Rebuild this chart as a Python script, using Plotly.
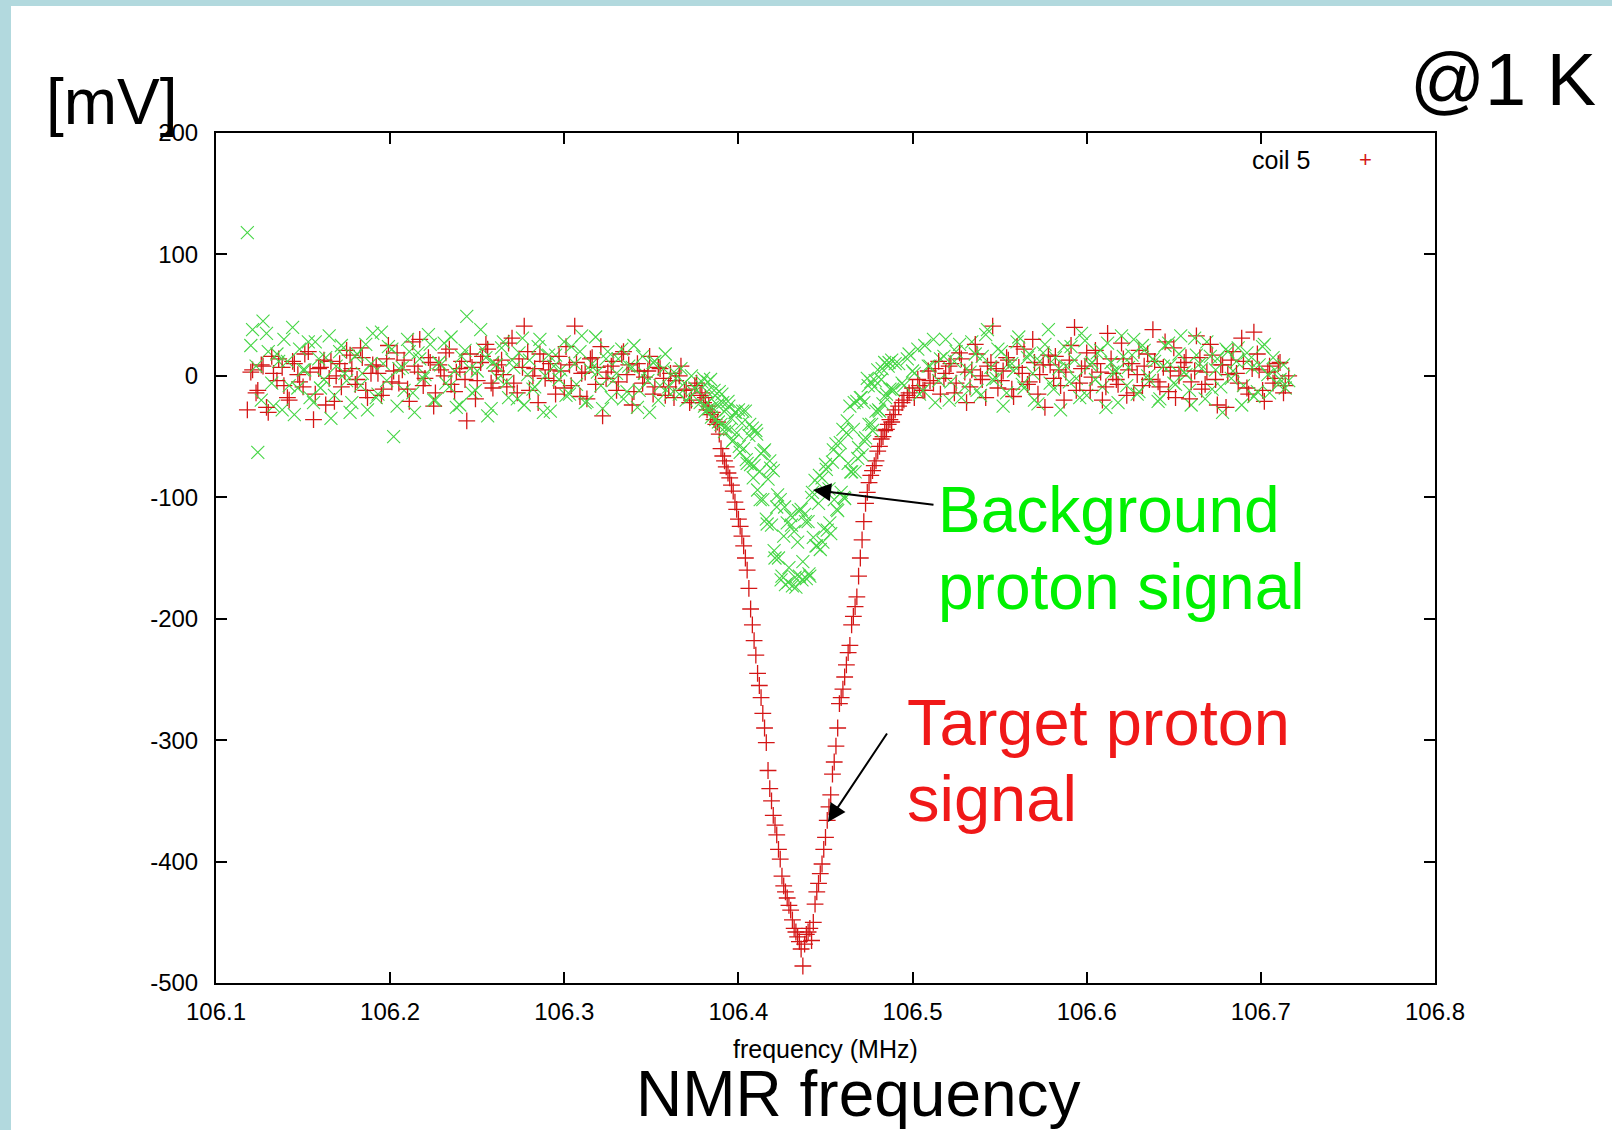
import plotly.graph_objects as go

# ---------------- data ----------------
# sweep 1 frequency grid (MHz)
freq_mhz = [
    106.118, 106.121, 106.124, 106.127, 106.130, 106.133, 106.136, 106.139, 106.142, 106.145,
    106.148, 106.151, 106.154, 106.157, 106.160, 106.163, 106.166, 106.169, 106.172, 106.175,
    106.178, 106.181, 106.184, 106.187, 106.190, 106.193, 106.196, 106.199, 106.202, 106.205,
    106.208, 106.211, 106.214, 106.217, 106.220, 106.223, 106.226, 106.229, 106.232, 106.235,
    106.238, 106.241, 106.244, 106.247, 106.250, 106.253, 106.256, 106.259, 106.262, 106.265,
    106.268, 106.271, 106.274, 106.277, 106.280, 106.283, 106.286, 106.289, 106.292, 106.295,
    106.298, 106.301, 106.304, 106.307, 106.310, 106.313, 106.316, 106.319, 106.322, 106.325,
    106.328, 106.331, 106.334, 106.337, 106.340, 106.343, 106.346, 106.349, 106.352, 106.355,
    106.358, 106.361, 106.364, 106.367, 106.370, 106.373, 106.376, 106.379,
    106.380, 106.381, 106.382, 106.383, 106.384, 106.385, 106.386, 106.387, 106.388, 106.389,
    106.390, 106.391, 106.392, 106.393, 106.394, 106.395, 106.396, 106.397, 106.398, 106.399,
    106.400, 106.401, 106.402, 106.403, 106.404, 106.405, 106.406, 106.407, 106.408, 106.409,
    106.410, 106.411, 106.412, 106.413, 106.414, 106.415, 106.416, 106.417, 106.418, 106.419,
    106.420, 106.421, 106.422, 106.423, 106.424, 106.425, 106.426, 106.427, 106.428, 106.429,
    106.430, 106.431, 106.432, 106.433, 106.434, 106.435, 106.436, 106.437, 106.438, 106.439,
    106.440, 106.441, 106.442, 106.443, 106.444, 106.445, 106.446, 106.447, 106.448, 106.449,
    106.450, 106.451, 106.452, 106.453, 106.454, 106.455, 106.456, 106.457, 106.458, 106.459,
    106.460, 106.461, 106.462, 106.463, 106.464, 106.465, 106.466, 106.467, 106.468, 106.469,
    106.470, 106.471, 106.472, 106.473, 106.474, 106.475, 106.476, 106.477, 106.478, 106.479,
    106.480, 106.481, 106.482, 106.483, 106.484, 106.485, 106.486, 106.487, 106.488, 106.489,
    106.490,
    106.492, 106.495, 106.498, 106.501, 106.504, 106.507, 106.510, 106.513, 106.516, 106.519,
    106.522, 106.525, 106.528, 106.531, 106.534, 106.537, 106.540, 106.543, 106.546, 106.549,
    106.552, 106.555, 106.558, 106.561, 106.564, 106.567, 106.570, 106.573, 106.576, 106.579,
    106.582, 106.585, 106.588, 106.591, 106.594, 106.597, 106.600, 106.603, 106.606, 106.609,
    106.612, 106.615, 106.618, 106.621, 106.624, 106.627, 106.630, 106.633, 106.636, 106.639,
    106.642, 106.645, 106.648, 106.651, 106.654, 106.657, 106.660, 106.663, 106.666, 106.669,
    106.672, 106.675, 106.678, 106.681, 106.684, 106.687, 106.690, 106.693, 106.696, 106.699,
    106.702, 106.705, 106.708, 106.711, 106.714,
]

# target (coil 5) signal, sweep 1, mV
coil5_mv = [
    -28, 5, -12, 8, -30, 2, 14, -8, -20, 10,
    -5, 18, 3, -15, 7, -24, 12, 0, -9, 21,
    6, -3, 15, -18, 9, 2, -11, 25, 4, -6,
    13, -21, 8, 30, -2, 11, -14, 5, 19, -7,
    3, 12, -37, 7, -4, 16, 22, -10, 9, 1,
    27, -6, 14, 41, -12, 6, 18, -2, 10, -15,
    4, 24, -8, 11, 2, -19, 15, 7, -33, 3,
    12, -5, 20, 9, -13, 4, -1, 16, -9, 6,
    -16, 2, -4, 8, -11, -20, -6, -14,
    -22, -18, -28, -25, -32, -30, -36, -40, -38, -48,
    -60, -66, -70, -75, -80, -84, -90, -95, -104, -110,
    -118, -124, -132, -140, -150, -160, -175, -192, -205, -218,
    -230, -245, -255, -265, -278, -290, -302, -325, -340, -350,
    -362, -370, -378, -390, -398, -412, -420, -425, -430, -436,
    -440, -448, -455, -458, -462, -466, -472, -486, -468, -460,
    -458, -455, -465, -450, -435, -425, -418, -410, -402, -390,
    -380, -366, -355, -345, -328, -318, -305, -290, -270, -265,
    -258, -248, -238, -228, -222, -205, -198, -190, -182, -165,
    -150, -135, -120, -105, -96, -88, -82, -78, -74, -70,
    -62, -58, -52, -50, -45, -44, -40, -36, -38, -32,
    -28,
    -25, -20, -14, -18, -8, -12, -4, 6, -15, 2,
    10, -6, 14, -22, 5, 18, -3, 8, 41, -10,
    4, 13, -17, 7, 22, -5, 11, 1, -26, 9,
    16, -8, 3, 25, -12, 6, 19, -1, 10, -20,
    35, 2, -7, 14, 5, -14, 21, 8, -3, 12,
    -9, 28, 4, -18, 7, 15, -5, 33, -11, 3,
    17, -24, 9, 1, 20, -6, 12, -15, 36, 5,
    -21, 8, -2, 11, -8,
]

# background signal, sweep 1, mV
background_mv = [
    118, 38, -63, 45, 20, -25, 12, 30, -8, -32,
    22, 5, -18, 28, -10, 15, -35, 8, 25, -4,
    -22, 18, 2, -28, 35, -15, 10, 24, -50, 6,
    -12, 20, -30, 14, 1, 26, -20, 9, -6, 32,
    -26, 16, 49, -14, 4, 22, -33, 11, -2, 28,
    -18, 7, 19, -24, 13, -9, 30, 0, -29, 17,
    5, -16, 24, -7, 33, -21, 10, 3, -27, 20,
    -4, 14, -19, 8, 25, -12, 2, -30, 12, -8,
    18, -15, -2, 6, -20, 0, -12, -5,
    -2, -29, -13, -27, -3, -26, -12, -36, -24, -13,
    -40, -22, -46, -28, -21, -44, -35, -53, -30, -47,
    -28, -63, -39, -60, -29, -72, -49, -73, -43, -74,
    -45, -94, -79, -64, -102, -61, -118, -85, -70, -123,
    -78, -150, -108, -150, -102, -165, -132, -172, -121, -158,
    -115, -173, -128, -174, -137, -165, -110, -153, -114, -167,
    -120, -165, -100, -133, -86, -140, -105, -143, -84, -126,
    -73, -127, -93, -130, -71, -102, -56, -111, -65, -96,
    -44, -101, -47, -72, -25, -79, -44, -79, -21, -59,
    -18, -65, -22, -51, -2, -40, -5, -45, -9, -29,
    5, -29, -3, -23, 11, -15, 8, -11, 13, -12,
    10,
    10, -8, 18, 2, -15, 25, 8, -22, 14, 30,
    -5, 20, -18, 6, 28, -12, 16, 38, -3, 22,
    -25, 10, 4, 32, -10, 18, -20, 12, 26, -6,
    15, -28, 8, 24, -2, 35, -16, 11, 19, -9,
    27, 3, -22, 16, 7, 30, -13, 21, -4, 12,
    -19, 25, 9, -7, 33, 1, -24, 17, 6, 28,
    -11, 14, -30, 20, 4, 23, -8, 13, -17, 9,
    26, -14, 5, -3, -10,
]

# sweep 2 frequency grid (MHz): below the dip, across the dip, above the dip
freq_b_low = [
    106.120, 106.123, 106.126, 106.129, 106.132, 106.135, 106.138, 106.141, 106.144, 106.147,
    106.150, 106.153, 106.156, 106.159, 106.162, 106.165, 106.168, 106.171, 106.174, 106.177,
    106.180, 106.183, 106.186, 106.189, 106.192, 106.195, 106.198, 106.201, 106.204, 106.207,
    106.210, 106.213, 106.216, 106.219, 106.222, 106.225, 106.228, 106.231, 106.234, 106.237,
    106.240, 106.243, 106.246, 106.249, 106.252, 106.255, 106.258, 106.261, 106.264, 106.267,
    106.270, 106.273, 106.276, 106.279, 106.282, 106.285, 106.288, 106.291, 106.294, 106.297,
    106.300, 106.303, 106.306, 106.309, 106.312, 106.315, 106.318, 106.321, 106.324, 106.327,
    106.330, 106.333, 106.336, 106.339, 106.342, 106.345, 106.348, 106.351, 106.354, 106.357,
    106.360, 106.363, 106.366, 106.369, 106.372, 106.375, 106.378,
]
freq_b_dip = [
    106.3805, 106.3825, 106.3845, 106.3865, 106.3885, 106.3905, 106.3925, 106.3945, 106.3965, 106.3985,
    106.4005, 106.4025, 106.4045, 106.4065, 106.4085, 106.4105, 106.4125, 106.4145, 106.4165, 106.4185,
    106.4205, 106.4225, 106.4245, 106.4265, 106.4285, 106.4305, 106.4325, 106.4345, 106.4365, 106.4385,
    106.4405, 106.4425, 106.4445, 106.4465, 106.4485, 106.4505, 106.4525, 106.4545, 106.4565, 106.4585,
    106.4605, 106.4625, 106.4645, 106.4665, 106.4685, 106.4705, 106.4725, 106.4745, 106.4765, 106.4785,
    106.4805, 106.4825, 106.4845, 106.4865, 106.4885,
]
freq_b_high = [
    106.494, 106.497, 106.500, 106.503, 106.506, 106.509, 106.512, 106.515, 106.518, 106.521,
    106.524, 106.527, 106.530, 106.533, 106.536, 106.539, 106.542, 106.545, 106.548, 106.551,
    106.554, 106.557, 106.560, 106.563, 106.566, 106.569, 106.572, 106.575, 106.578, 106.581,
    106.584, 106.587, 106.590, 106.593, 106.596, 106.599, 106.602, 106.605, 106.608, 106.611,
    106.614, 106.617, 106.620, 106.623, 106.626, 106.629, 106.632, 106.635, 106.638, 106.641,
    106.644, 106.647, 106.650, 106.653, 106.656, 106.659, 106.662, 106.665, 106.668, 106.671,
    106.674, 106.677, 106.680, 106.683, 106.686, 106.689, 106.692, 106.695, 106.698, 106.701,
    106.704, 106.707, 106.710, 106.713, 106.716,
]

# target (coil 5) signal, sweep 2 (baseline only), mV
coil5_mv_b_low = [
    3, -14, 9, -26, 16, -4, 7, -18, 12, 1,
    -9, 20, -36, 6, 13, -2, -21, 10, 4, 17,
    -7, 23, -12, 2, 8, -16, 14, -5, 19, 5,
    -11, 28, 3, -8, 15, -25, 9, 0, 22, -13,
    6, -3, 18, -19, 11, 26, -6, 4, 13, -9,
    31, -14, 7, 20, 0, -22, 12, 5, -4, 16,
    -10, 9, 41, -17, 3, 14, -7, 24, -2, 8,
    -12, 18, 1, -24, 10, -6, 4, -15, 7, -2,
    -9, -18, 0, -12, -22, -8, -16,
]
coil5_mv_b_high = [
    -22, -16, -10, -3, -12, 4, -6, 12, -2, 8,
    -14, 19, 3, -9, 26, 0, -18, 11, 6, -4,
    15, -11, 24, 2, -7, 30, -15, 9, 17, -2,
    5, -20, 13, 40, -6, 8, -12, 21, 3, -9,
    14, -3, 27, -16, 10, 1, -8, 18, 38, -5,
    7, -13, 23, 0, 11, -19, 4, 15, -7, 26,
    -3, 9, -26, 13, 2, 31, -10, 6, 18, -12,
    3, -6, 10, -14, 0,
]

# background signal, sweep 2, mV
background_mv_b_low = [
    25, 8, -20, 35, -6, 18, -28, 12, 40, -10,
    5, 28, -22, 14, -3, 33, -16, 20, 2, -30,
    16, -8, 26, 10, -18, 36, -4, 22, -25, 7,
    30, -14, 19, -2, 34, -20, 11, 27, -9, 4,
    -24, 21, 6, -12, 38, 15, -27, 9, 23, -5,
    13, -19, 31, 1, -11, 24, -30, 17, 8, -3,
    28, -15, 10, 20, -22, 5, 32, -8, 14, -18,
    2, 22, -13, 7, -26, 16, -4, 11, -20, 6,
    -9, 3, -15, -6, -18, -10, -22,
]
background_mv_b_dip = [
    -25, -5, -34, -16, -38, -15, -42, -25, -54, -30,
    -58, -29, -69, -40, -84, -48, -102, -62, -122, -76,
    -144, -98, -168, -108, -170, -123, -166, -111, -168, -120,
    -163, -96, -140, -82, -137, -77, -121, -61, -110, -55,
    -100, -37, -79, -22, -68, -18, -54, -8, -40, -4,
    -28, 6, -18, 11, -11,
]
background_mv_b_high = [
    -6, 14, 4, 22, -12, 8, 30, -4, 16, -20,
    12, 26, -9, 3, 18, -16, 34, 7, -2, 20,
    -14, 10, 28, -7, 15, 2, -23, 19, 38, -11,
    6, 24, -5, 13, -18, 29, 9, -3, 21, -26,
    11, 4, 33, -8, 17, -15, 25, 0, 14, -21,
    8, 27, -6, 18, 3, -12, 31, 10, -19, 16,
    5, -9, 22, -2, 12, -24, 19, 7, -13, 24,
    1, 15, -7, 9, -4,
]

x_ticks = [106.1, 106.2, 106.3, 106.4, 106.5, 106.6, 106.7, 106.8]
x_tick_labels = ["106.1", "106.2", "106.3", "106.4", "106.5", "106.6", "106.7", "106.8"]
y_ticks = [-500, -400, -300, -200, -100, 0, 100, 200]
y_tick_labels = ["-500", "-400", "-300", "-200", "-100", "0", "100", "200"]

# ---------------- layout geometry ----------------
W, H = 1612, 1130
ML, MR, MT, MB = 216, 177, 133, 147
PW, PH = W - ML - MR, H - MT - MB


def px(x):
    return (x - ML) / PW


def py(y):
    return (H - MB - y) / PH


FONT = "Liberation Sans, Arial, Helvetica, sans-serif"
RED_MARK = "#d41616"
GREEN_MARK = "#46d646"


def red_trace(x, y, name):
    return go.Scatter(
        x=x, y=y, mode="markers", name=name, showlegend=False,
        marker=dict(symbol="cross-thin-open", size=12, color=RED_MARK,
                    line=dict(color=RED_MARK, width=1.3)),
    )


def green_trace(x, y, name):
    return go.Scatter(
        x=x, y=y, mode="markers", name=name, showlegend=False,
        marker=dict(symbol="x-thin-open", size=13, color=GREEN_MARK,
                    line=dict(color=GREEN_MARK, width=1.1)),
    )


fig = go.Figure()
fig.add_trace(red_trace(freq_mhz, coil5_mv, "coil 5"))
fig.add_trace(green_trace(freq_mhz, background_mv, "background"))
fig.add_trace(red_trace(freq_b_low + freq_b_high, coil5_mv_b_low + coil5_mv_b_high,
                        "coil 5 (sweep 2)"))
fig.add_trace(green_trace(freq_b_low + freq_b_dip + freq_b_high,
                          background_mv_b_low + background_mv_b_dip + background_mv_b_high,
                          "background (sweep 2)"))

axis_common = dict(
    showline=True, linecolor="black", linewidth=2, mirror="ticks",
    ticks="inside", ticklen=11, tickwidth=1.5, tickcolor="black",
    showgrid=False, zeroline=False,
    tickfont=dict(family=FONT, size=24, color="black"),
)
fig.update_xaxes(range=[106.1, 106.8], tickvals=x_ticks, ticktext=x_tick_labels,
                 ticklabelstandoff=6, **axis_common)
fig.update_yaxes(range=[-500, 200], tickvals=y_ticks, ticktext=y_tick_labels,
                 ticklabelstandoff=11, **axis_common)

ann = []


def text(s, x, y, size, color="black", xanchor="left", yanchor="middle"):
    ann.append(dict(text=s, x=px(x), y=py(y), xref="paper", yref="paper",
                    xanchor=xanchor, yanchor=yanchor, showarrow=False,
                    font=dict(family=FONT, size=size, color=color)))


text("[mV]", 44, 102, 64)
text("@1 K", 1598, 79, 74, xanchor="right")
text("Background", 936, 510, 64, color="#00f000")
text("proton signal", 936, 587, 64, color="#00f000")
text("Target proton", 905, 722, 65, color="#f01818")
text("signal", 905, 798, 65, color="#f01818")
text("NMR frequency", 858, 1094, 64, xanchor="center")
text("frequency (MHz)", 825, 1049, 25, xanchor="center")
text("coil 5", 1312, 160, 25, xanchor="right")
text("+", 1365, 159, 22, color=RED_MARK, xanchor="center")

# arrows
ann.append(dict(x=px(813), y=py(490), xref="paper", yref="paper", text="",
                showarrow=True, arrowhead=2, arrowsize=1.8, arrowwidth=2,
                arrowcolor="black", ax=122, ay=15, axref="pixel", ayref="pixel"))
ann.append(dict(x=px(828), y=py(822), xref="paper", yref="paper", text="",
                showarrow=True, arrowhead=2, arrowsize=1.8, arrowwidth=2,
                arrowcolor="black", ax=60, ay=-90, axref="pixel", ayref="pixel"))

BORDER = "#b2d9de"
shapes = [
    dict(type="rect", xref="paper", yref="paper", x0=px(0), x1=px(11), y0=py(H), y1=py(0),
         fillcolor=BORDER, line=dict(width=0), layer="below"),
    dict(type="rect", xref="paper", yref="paper", x0=px(0), x1=px(W), y0=py(6), y1=py(0),
         fillcolor=BORDER, line=dict(width=0), layer="below"),
]

fig.update_layout(
    width=W, height=H,
    margin=dict(l=ML, r=MR, t=MT, b=MB, pad=0),
    paper_bgcolor="white", plot_bgcolor="white",
    annotations=ann, shapes=shapes,
    showlegend=False,
)

fig.write_html("out.html", config={"displayModeBar": False})
